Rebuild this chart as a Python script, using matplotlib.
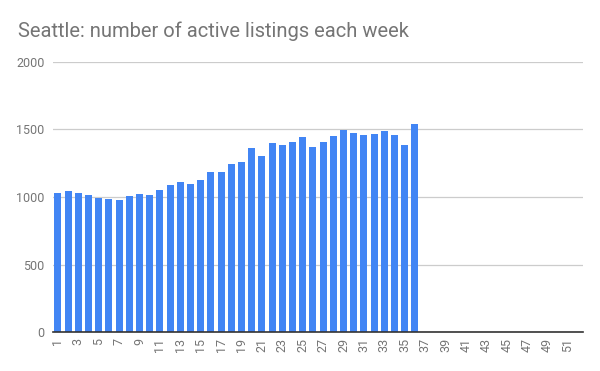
import numpy as np
import matplotlib.pyplot as plt

plt.rcParams["font.family"] = ["Roboto", "DejaVu Sans"]

weeks = list(range(1, 53))
listings = [1030, 1044, 1030, 1015, 993, 985, 978, 1007, 1022, 1015,
            1052, 1089, 1113, 1096, 1126, 1185, 1185, 1244, 1257, 1360,
            1301, 1397, 1383, 1405, 1442, 1368, 1405, 1449, 1494, 1472,
            1457, 1464, 1486, 1457, 1383, 1538]
title = "Seattle: number of active listings each week"

fig = plt.figure(figsize=(6, 3.71), dpi=100)
ax = fig.add_axes([0.088, 0.105, 0.884, 0.728])

x = np.arange(len(weeks))
ax.bar(x[:len(listings)], listings, width=0.68, color="#4285F4", zorder=3)

ax.set_xlim(-0.5, len(weeks) - 0.5)
ax.set_ylim(0, 2000)
ax.set_yticks([0, 500, 1000, 1500, 2000])
ax.yaxis.grid(True, color="#cccccc", linewidth=0.9, zorder=0)
ax.set_xticks(x[::2])
ax.set_xticklabels([str(w) for w in weeks[::2]], rotation=90)

ax.tick_params(axis="both", length=0, colors="#757575", labelsize=9)
ax.tick_params(axis="x", pad=4)
ax.tick_params(axis="y", pad=6)
for s in ["top", "right", "left"]:
    ax.spines[s].set_visible(False)
ax.spines["bottom"].set_color("#333333")
ax.spines["bottom"].set_linewidth(1.2)
ax.spines["bottom"].set_zorder(4)

fig.text(0.03, 0.915, title, fontsize=14.5, color="#757575", ha="left", va="center")

fig.savefig("out.png", dpi=100)
